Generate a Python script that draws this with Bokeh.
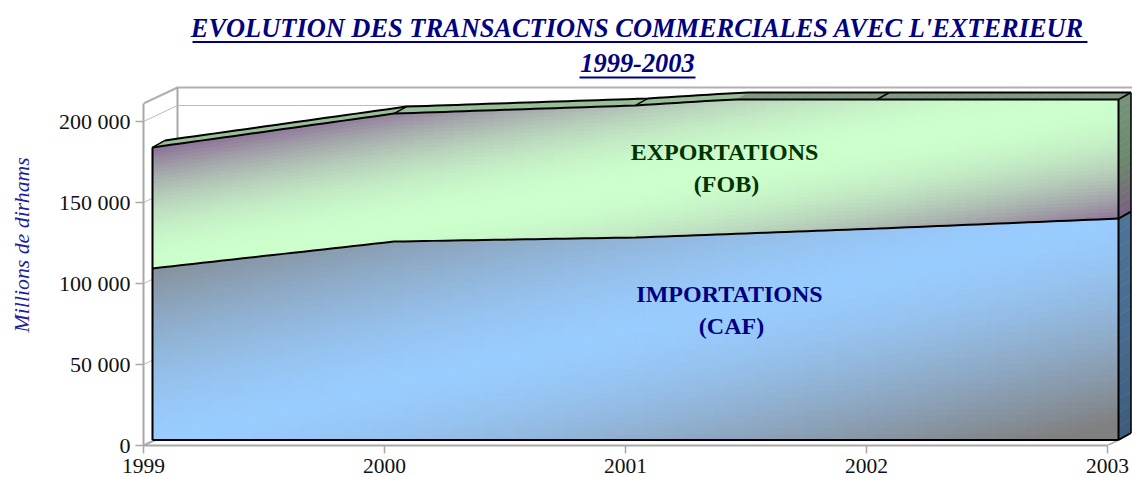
import numpy as np
from bokeh.plotting import figure
from bokeh.models import Range1d, FixedTicker, Label
from bokeh.embed import file_html
from bokeh.resources import INLINE

years = [1999, 2000, 2001, 2002, 2003]
year_labels = ["1999", "2000", "2001", "2002", "2003"]
importations = [105900, 122500, 125000, 130500, 136700]
exportations = [74700, 79000, 81500, 85200, 90000]
y_ticks = [0, 50000, 100000, 150000, 200000]
y_tick_labels = ["0", "50 000", "100 000", "150 000", "200 000"]
axis_max = 210200
title_1 = "EVOLUTION DES TRANSACTIONS COMMERCIALES AVEC L'EXTERIEUR"
title_2 = "1999-2003"
y_title = "Millions de dirhams"

# layout in page pixels
L, R, T, B = 143, 1132, 0, 445
H = 477
PX_YEAR = 241.0
PX_VAL = 0.00162
x_end = 1999 + (R - L) / PX_YEAR
y_end = (B - T) / PX_VAL

def X(px):
    return 1999 + (np.asarray(px, float) - L) / PX_YEAR
def Y(py):
    return (B - np.asarray(py, float)) / PX_VAL

DX, DY = 12.5 / PX_YEAR, 7 / PX_VAL          # series depth
WX, WY = 34 / PX_YEAR, 16 / PX_VAL           # wall depth
def fx(y):
    return 1999 + (np.asarray(y, float) - 1999) * (241.5 / 241) + 9 / PX_YEAR
def fy(v):
    return np.asarray(v, float) + 5.5 / PX_VAL

def hexc(c):
    return "#%02x%02x%02x" % tuple(int(round(max(0, min(255, a)))) for a in c)
def lerp(a, b, t):
    return tuple(a[i] + (b[i] - a[i]) * t for i in range(3))

p = figure(width=1132, height=H, x_range=Range1d(1999, x_end), y_range=Range1d(0, y_end),
           toolbar_location=None, output_backend="svg",
           min_border_left=L, min_border_right=0, min_border_top=T, min_border_bottom=H - B,
           outline_line_color=None, background_fill_color="white",
           border_fill_color="white")
p.grid.visible = False

GREY = "#a8a8a8"
for ax, ticks, labels in ((p.xaxis, years, year_labels), (p.yaxis, y_ticks, y_tick_labels)):
    ax.ticker = FixedTicker(ticks=ticks)
    ax.major_label_overrides = {t: l for t, l in zip(ticks, labels)}
    ax.minor_tick_line_color = None
    ax.axis_line_color = GREY
    ax.axis_line_width = 2
    ax.major_tick_line_color = GREY
    ax.major_tick_line_width = 1.5
    ax.major_tick_in = 0
    ax.major_tick_out = 8
    ax.major_label_text_font = "Liberation Serif"
    ax.major_label_text_font_size = "22px"
    ax.major_label_text_color = "#111111"
p.xaxis.major_label_standoff = 5
p.xaxis.major_label_text_font_size = "21.5px"
p.yaxis.major_label_standoff = 5
p.xaxis.bounds = (1999, 2003)
p.yaxis.bounds = (0, Y(103).item())
# the trailing no-break spaces move the centred axis title down to its place on the wall
p.yaxis.axis_label = y_title + "\u00a0" * 8
p.yaxis.axis_label_text_font = "Liberation Serif"
p.yaxis.axis_label_text_font_size = "21.8px"
p.yaxis.axis_label_text_font_style = "italic"
p.yaxis.axis_label_text_color = "#20209a"
p.yaxis.axis_label_standoff = 22

# walls
top = Y(103).item()
p.line([1999, 1999 + WX, x_end], [top, top + WY, top + WY], line_color="#b0b0b0", line_width=2)
p.line([1999 + WX, 1999 + WX], [WY, top + WY], line_color=GREY, line_width=2)
p.line([1999, 1999 + WX, x_end], [0, WY, WY], line_color=GREY, line_width=2)
for t in y_ticks[1:]:
    p.line([1999, 1999 + WX, x_end], [t, t + WY, t + WY], line_color="#bcbcbc", line_width=1)
p.line([2003, fx(2003)], [0, fy(0)], line_color=GREY, line_width=1.5)

# series on a fine grid, clipped at the axis maximum
grid = np.linspace(1999, 2003, 97)
imp = np.interp(grid, years, importations)
tot_points = np.add(importations, exportations)
tot = np.minimum(np.interp(grid, years, tot_points), axis_max)

def band(lo, hi, color_fn, rows=34):
    xs, ys, cs = [], [], []
    vmin, vmax = lo.min(), hi.max()
    for i in range(len(grid) - 1):
        x0, x1 = fx(grid[i]), fx(grid[i + 1])
        for j in range(rows):
            a, b = j / rows, (j + 1) / rows
            y00 = lo[i] + (hi[i] - lo[i]) * a
            y01 = lo[i] + (hi[i] - lo[i]) * b
            y10 = lo[i + 1] + (hi[i + 1] - lo[i + 1]) * a
            y11 = lo[i + 1] + (hi[i + 1] - lo[i + 1]) * b
            xs.append([x0, x1, x1, x0])
            ys.append(list(fy([y00, y10, y11, y01])))
            u = (i + .5) / (len(grid) - 1)
            v = ((y00 + y01 + y10 + y11) / 4 - vmin) / (vmax - vmin)
            cs.append(hexc(color_fn(abs(v - u))))
    p.patches(xs, ys, fill_color=cs, line_color=cs, line_width=1.2)

BLUE, BGREY = (153, 204, 255), (128, 128, 128)
GREEN, PURP = (204, 255, 204), (139, 111, 150)
band(np.zeros_like(imp), imp, lambda s: lerp(BLUE, BGREY, min(s / .92, 1) ** 1.5))
band(imp, tot, lambda s: lerp(GREEN, PURP, min(s / .72, 1) ** 2))

# top face
for i in range(len(grid) - 1):
    flat = tot[i] >= axis_max and tot[i + 1] >= axis_max
    col = "#7d9a80" if flat else "#97bf97"
    x0, x1 = fx(grid[i]), fx(grid[i + 1])
    y0, y1 = fy(tot[i]), fy(tot[i + 1])
    p.patch([x0, x1, x1 + DX, x0 + DX], [y0, y1, y1 + DY, y0 + DY],
            fill_color=col, line_color=col, line_width=0.5)

# right faces
xr = fx(2003).item()
def side(lo, hi, c0, c1, c2, rows=16):
    for j in range(rows):
        a, b = j / rows, (j + 1) / rows
        ya, yb = fy(lo + (hi - lo) * a).item(), fy(lo + (hi - lo) * b).item()
        t = (j + .5) / rows
        c = lerp(c0, c1, t * 2) if t < .5 else lerp(c1, c2, t * 2 - 1)
        c = hexc(c)
        p.patch([xr, xr + DX, xr + DX, xr], [ya, ya + DY, yb + DY, yb],
                fill_color=c, line_color=c, line_width=0.5)
side(tot[-1], imp[-1], (118, 148, 122), (108, 138, 108), (122, 95, 128))
side(imp[-1], 0.0, (78, 116, 152), (72, 108, 145), (62, 92, 124))

# edges
EDGE = dict(line_color="black", line_width=2)
p.line(fx(grid), fy(imp), **EDGE)
p.line(fx(grid), fy(tot), **EDGE)
p.line(fx(grid) + DX, fy(tot) + DY, **EDGE)
p.line(fx(grid), fy(np.zeros_like(grid)), **EDGE)
p.line([fx(1999)] * 2, [fy(0), fy(tot[0])], **EDGE)
p.line([xr, xr], [fy(0), fy(tot[-1])], **EDGE)
p.line([xr + DX, xr + DX], [fy(0) + DY, fy(tot[-1]) + DY], line_color="black", line_width=1.5)
p.line([xr, xr + DX], [fy(0), fy(0) + DY], **EDGE)
p.line([xr, xr + DX], [fy(imp[-1]), fy(imp[-1]) + DY], **EDGE)
for yr in years:
    v = np.interp(yr, grid, tot)
    p.line([fx(yr), fx(yr) + DX], [fy(v), fy(v) + DY], line_color="black", line_width=1.5)

# title lines and their underlines
NAVY = "#000080"
for x0, x1, py in ((192, 1087, 41.5), (579, 695, 77)):
    p.line([X(x0).item(), X(x1).item()], [Y(py).item()] * 2, line_color=NAVY, line_width=2)

def lab(txt, px, py, size, color, style="bold"):
    p.add_layout(Label(x=X(px).item(), y=Y(py).item(), text=txt, text_font="Liberation Serif",
                       text_font_size=size, text_font_style=style, text_color=color,
                       text_align="center", text_baseline="middle"))

lab(title_1, 637, 27, "26.4px", NAVY, "bold italic")
lab(title_2, 637, 62, "26.4px", NAVY, "bold italic")
lab("EXPORTATIONS", 724, 151, "24px", "#003300")
lab("(FOB)", 726, 183, "24px", "#003300")
lab("IMPORTATIONS", 729, 293, "24px", NAVY)
lab("(CAF)", 731, 325, "24px", NAVY)

open("out.html", "w").write(file_html(p, INLINE))
